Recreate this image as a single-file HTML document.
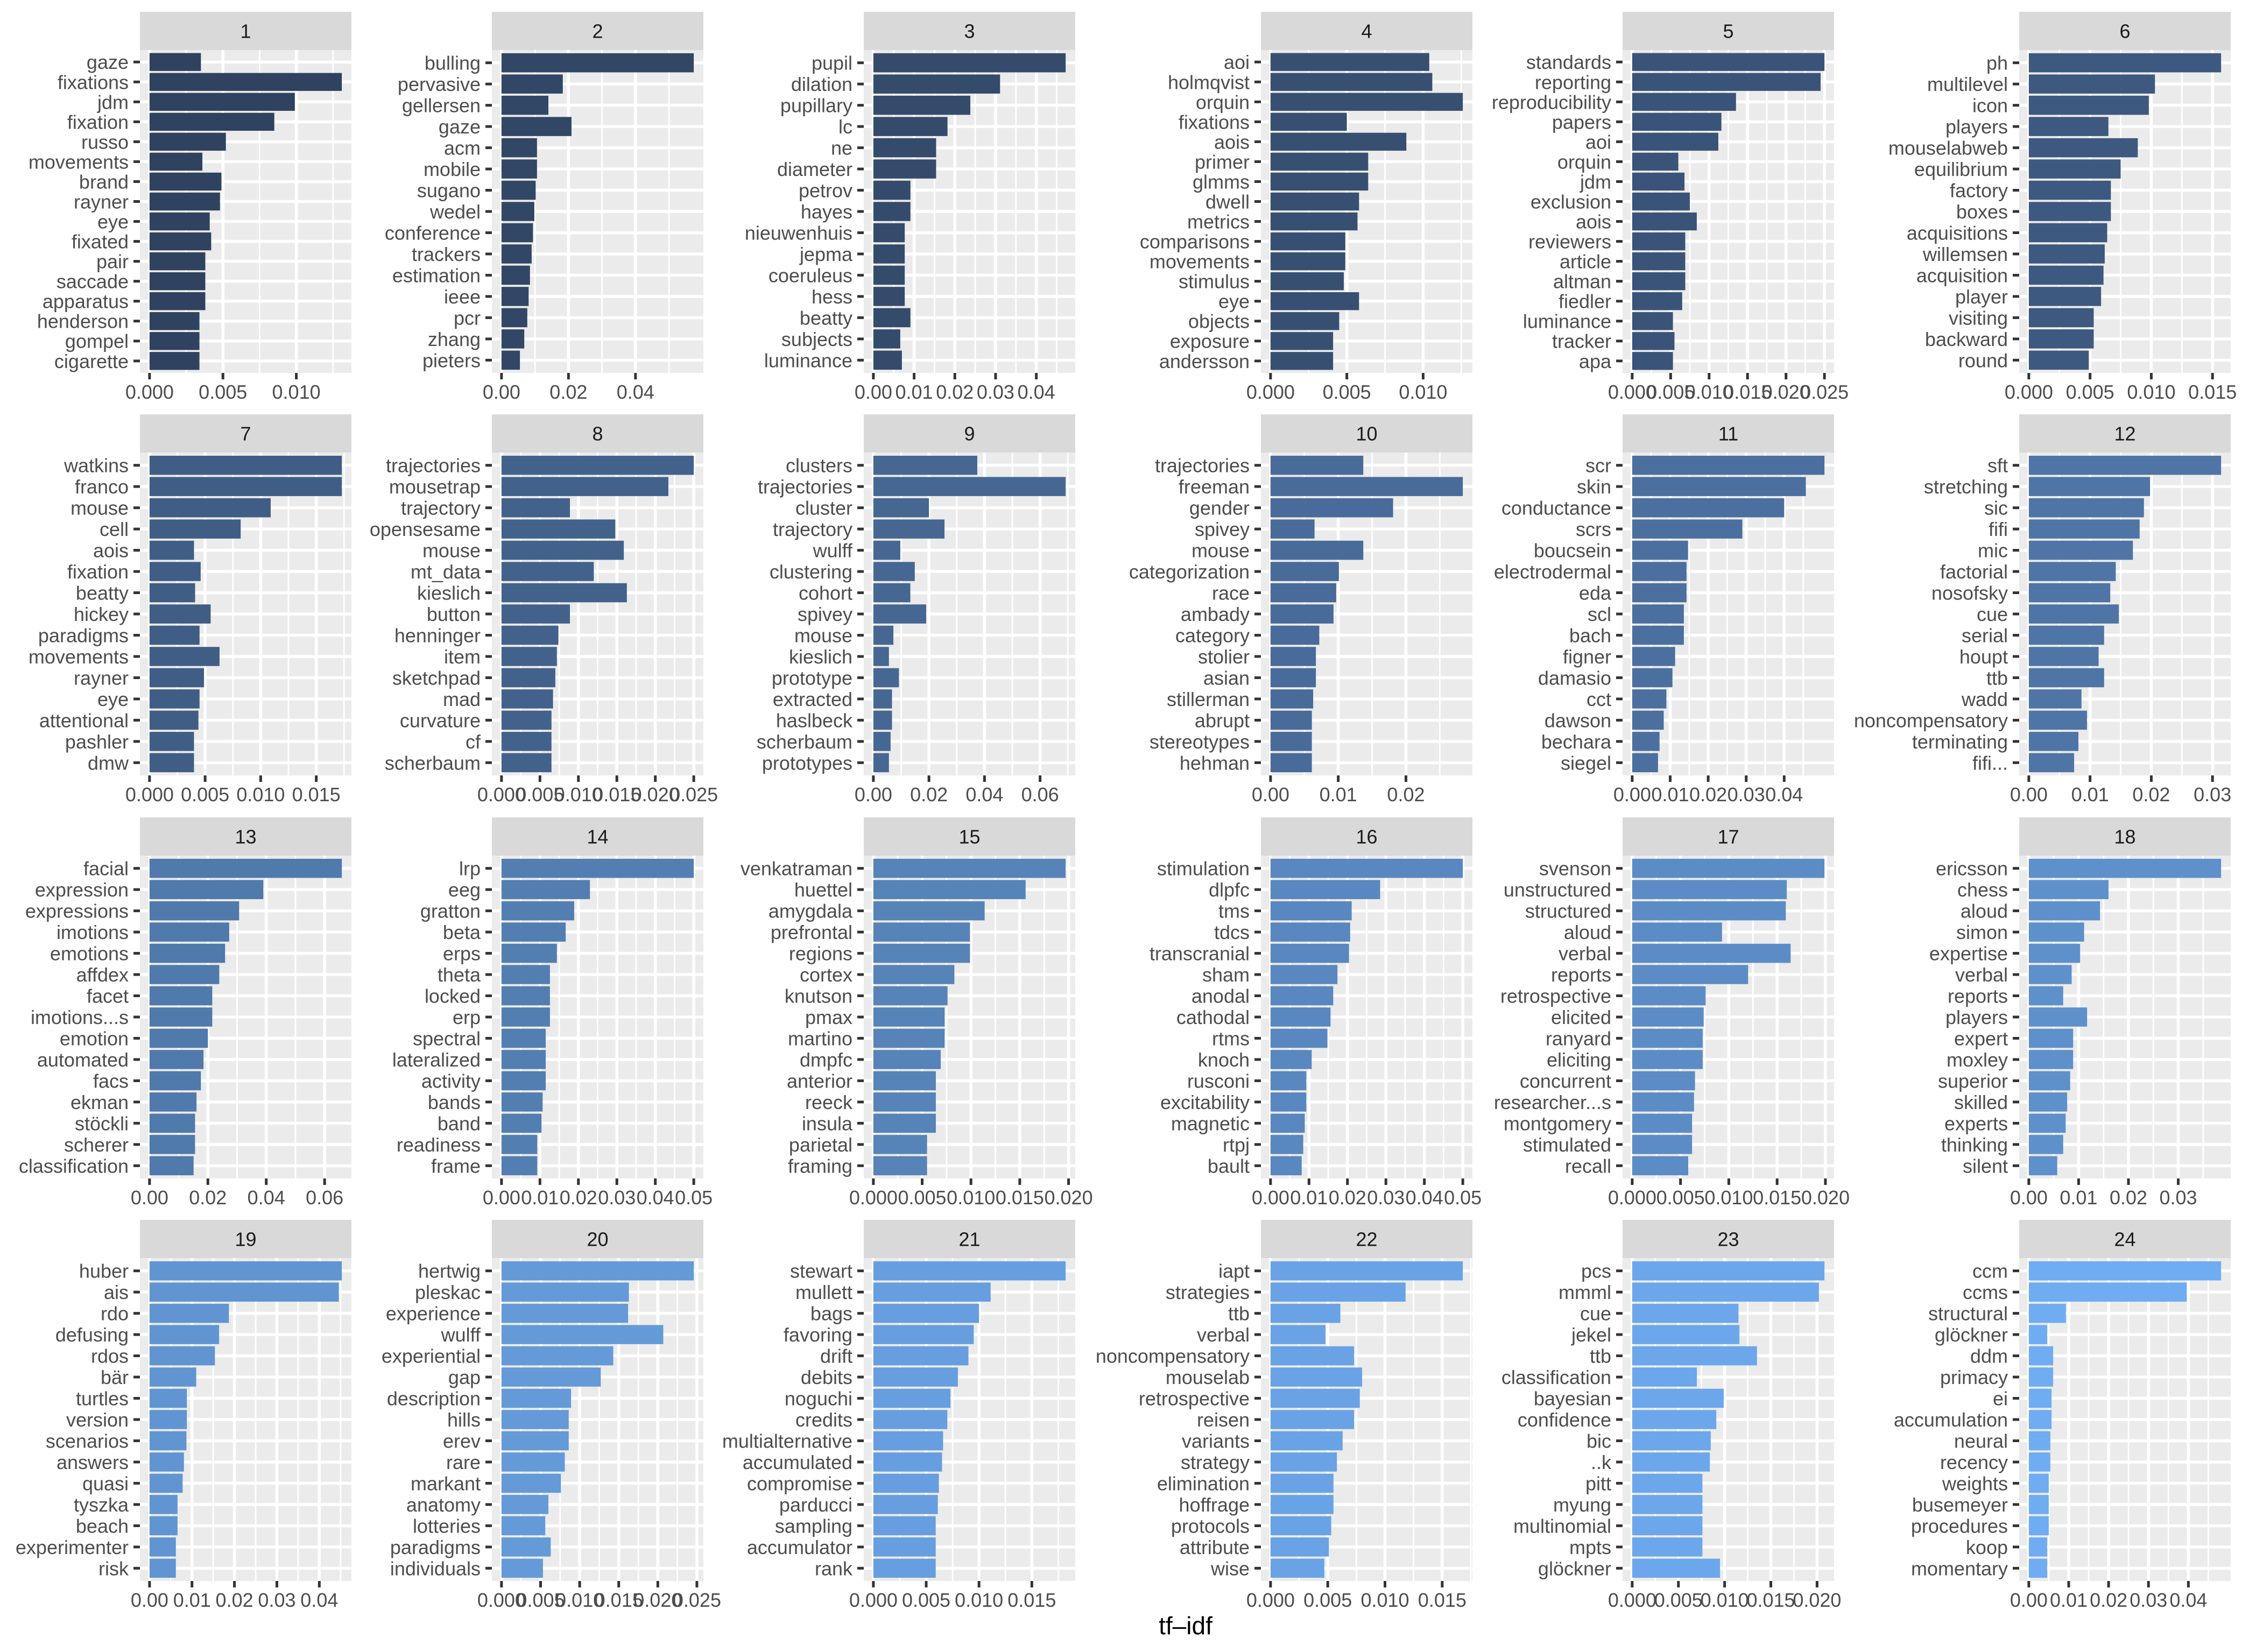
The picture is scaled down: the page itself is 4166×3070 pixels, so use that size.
<!DOCTYPE html>
<html><head><meta charset="utf-8"><style>
html,body{margin:0;padding:0;background:#fff;}
svg{display:block;font-family:"Liberation Sans",Arial,sans-serif;}
</style></head><body>
<svg id="chart" width="4166" height="3070" viewBox="0 0 4166 3070" xmlns="http://www.w3.org/2000/svg">
<text x="2203" y="3037" font-size="46" text-anchor="middle" fill="#000">tf–idf</text>
</svg>
<script>
const facetLabels = ["1","2","3","4","5","6","7","8","9","10","11","12","13","14","15","16","17","18","19","20","21","22","23","24"];
const terms = [
["gaze","fixations","jdm","fixation","russo","movements","brand","rayner","eye","fixated","pair","saccade","apparatus","henderson","gompel","cigarette"],
["bulling","pervasive","gellersen","gaze","acm","mobile","sugano","wedel","conference","trackers","estimation","ieee","pcr","zhang","pieters"],
["pupil","dilation","pupillary","lc","ne","diameter","petrov","hayes","nieuwenhuis","jepma","coeruleus","hess","beatty","subjects","luminance"],
["aoi","holmqvist","orquin","fixations","aois","primer","glmms","dwell","metrics","comparisons","movements","stimulus","eye","objects","exposure","andersson"],
["standards","reporting","reproducibility","papers","aoi","orquin","jdm","exclusion","aois","reviewers","article","altman","fiedler","luminance","tracker","apa"],
["ph","multilevel","icon","players","mouselabweb","equilibrium","factory","boxes","acquisitions","willemsen","acquisition","player","visiting","backward","round"],
["watkins","franco","mouse","cell","aois","fixation","beatty","hickey","paradigms","movements","rayner","eye","attentional","pashler","dmw"],
["trajectories","mousetrap","trajectory","opensesame","mouse","mt_data","kieslich","button","henninger","item","sketchpad","mad","curvature","cf","scherbaum"],
["clusters","trajectories","cluster","trajectory","wulff","clustering","cohort","spivey","mouse","kieslich","prototype","extracted","haslbeck","scherbaum","prototypes"],
["trajectories","freeman","gender","spivey","mouse","categorization","race","ambady","category","stolier","asian","stillerman","abrupt","stereotypes","hehman"],
["scr","skin","conductance","scrs","boucsein","electrodermal","eda","scl","bach","figner","damasio","cct","dawson","bechara","siegel"],
["sft","stretching","sic","fifi","mic","factorial","nosofsky","cue","serial","houpt","ttb","wadd","noncompensatory","terminating","fifi..."],
["facial","expression","expressions","imotions","emotions","affdex","facet","imotions...s","emotion","automated","facs","ekman","stöckli","scherer","classification"],
["lrp","eeg","gratton","beta","erps","theta","locked","erp","spectral","lateralized","activity","bands","band","readiness","frame"],
["venkatraman","huettel","amygdala","prefrontal","regions","cortex","knutson","pmax","martino","dmpfc","anterior","reeck","insula","parietal","framing"],
["stimulation","dlpfc","tms","tdcs","transcranial","sham","anodal","cathodal","rtms","knoch","rusconi","excitability","magnetic","rtpj","bault"],
["svenson","unstructured","structured","aloud","verbal","reports","retrospective","elicited","ranyard","eliciting","concurrent","researcher...s","montgomery","stimulated","recall"],
["ericsson","chess","aloud","simon","expertise","verbal","reports","players","expert","moxley","superior","skilled","experts","thinking","silent"],
["huber","ais","rdo","defusing","rdos","bär","turtles","version","scenarios","answers","quasi","tyszka","beach","experimenter","risk"],
["hertwig","pleskac","experience","wulff","experiential","gap","description","hills","erev","rare","markant","anatomy","lotteries","paradigms","individuals"],
["stewart","mullett","bags","favoring","drift","debits","noguchi","credits","multialternative","accumulated","compromise","parducci","sampling","accumulator","rank"],
["iapt","strategies","ttb","verbal","noncompensatory","mouselab","retrospective","reisen","variants","strategy","elimination","hoffrage","protocols","attribute","wise"],
["pcs","mmml","cue","jekel","ttb","classification","bayesian","confidence","bic","..k","pitt","myung","multinomial","mpts","glöckner"],
["ccm","ccms","structural","glöckner","ddm","primacy","ei","accumulation","neural","recency","weights","busemeyer","procedures","koop","momentary"]
];
const values = [
[0.0035,0.0131,0.0099,0.0085,0.0052,0.0036,0.0049,0.0048,0.0041,0.0042,0.0038,0.0038,0.0038,0.0034,0.0034,0.0034],
[0.0574,0.0183,0.014,0.0209,0.0106,0.0106,0.0102,0.0098,0.0094,0.009,0.0085,0.0081,0.0077,0.0068,0.0055],
[0.0472,0.0311,0.0238,0.0182,0.0154,0.0154,0.0091,0.0091,0.0077,0.0077,0.0077,0.0077,0.0091,0.0066,0.007],
[0.0104,0.0106,0.0126,0.005,0.0089,0.0064,0.0064,0.0058,0.0057,0.0049,0.0049,0.0048,0.0058,0.0045,0.0041,0.0041],
[0.025,0.0245,0.0135,0.0116,0.0112,0.006,0.0068,0.0075,0.0084,0.0069,0.0069,0.0069,0.0065,0.0053,0.0055,0.0053],
[0.0157,0.0103,0.0098,0.0065,0.0089,0.0075,0.0067,0.0067,0.0064,0.0062,0.0061,0.0059,0.0053,0.0053,0.0049],
[0.0173,0.0173,0.0109,0.0082,0.004,0.0046,0.0041,0.0055,0.0045,0.0063,0.0049,0.0045,0.0044,0.004,0.004],
[0.025,0.0217,0.0089,0.0148,0.0159,0.012,0.0163,0.0089,0.0074,0.0072,0.007,0.0067,0.0065,0.0065,0.0065],
[0.0374,0.0692,0.02,0.0256,0.0097,0.0149,0.0133,0.019,0.0072,0.0056,0.0092,0.0067,0.0067,0.0062,0.0056],
[0.0137,0.0284,0.0181,0.0065,0.0137,0.0101,0.0097,0.0093,0.0072,0.0067,0.0067,0.0063,0.0061,0.0061,0.0061],
[0.0506,0.0457,0.04,0.029,0.0147,0.0143,0.0143,0.0136,0.0136,0.0113,0.0106,0.009,0.0083,0.0072,0.0068],
[0.0314,0.0198,0.0188,0.0181,0.017,0.0142,0.0133,0.0147,0.0123,0.0114,0.0123,0.0086,0.0095,0.0081,0.0074],
[0.0659,0.039,0.0307,0.0273,0.0259,0.0239,0.0215,0.0215,0.02,0.0185,0.0176,0.0161,0.0156,0.0156,0.0151],
[0.05,0.023,0.0189,0.0167,0.0144,0.0126,0.0126,0.0126,0.0115,0.0115,0.0115,0.0107,0.0104,0.0093,0.0093],
[0.0197,0.0156,0.0114,0.0099,0.0099,0.0083,0.0076,0.0073,0.0073,0.0069,0.0064,0.0064,0.0064,0.0055,0.0055],
[0.05,0.0285,0.0211,0.0207,0.0204,0.0174,0.0163,0.0156,0.0148,0.0107,0.0093,0.0093,0.0089,0.0085,0.0081],
[0.0199,0.016,0.0159,0.0093,0.0164,0.012,0.0076,0.0074,0.0073,0.0073,0.0065,0.0064,0.0062,0.0062,0.0058],
[0.0386,0.016,0.0143,0.0111,0.0103,0.0086,0.0069,0.0117,0.0089,0.0089,0.0083,0.0077,0.0074,0.0069,0.0057],
[0.0453,0.0446,0.0187,0.0164,0.0154,0.011,0.0088,0.0088,0.0087,0.0081,0.0078,0.0066,0.0066,0.0062,0.0062],
[0.0246,0.0163,0.0162,0.0207,0.0143,0.0127,0.0089,0.0086,0.0086,0.0081,0.0076,0.006,0.0056,0.0063,0.0053],
[0.0182,0.0111,0.01,0.0095,0.009,0.008,0.0073,0.007,0.0066,0.0065,0.0062,0.0061,0.0059,0.0059,0.0059],
[0.0168,0.0118,0.0061,0.0048,0.0073,0.008,0.0078,0.0073,0.0063,0.0058,0.0055,0.0055,0.0053,0.0051,0.0047],
[0.0208,0.0202,0.0115,0.0116,0.0135,0.007,0.0099,0.0091,0.0085,0.0084,0.0076,0.0076,0.0076,0.0076,0.0095],
[0.0482,0.0396,0.0093,0.0046,0.0061,0.0061,0.0057,0.0057,0.0054,0.0054,0.005,0.005,0.005,0.0046,0.0046]
];
const tickLabels = [
["0.000","0.005","0.010"],
["0.00","0.02","0.04"],
["0.00","0.01","0.02","0.03","0.04"],
["0.000","0.005","0.010"],
["0.000","0.005","0.010","0.015","0.020","0.025"],
["0.000","0.005","0.010","0.015"],
["0.000","0.005","0.010","0.015"],
["0.000","0.005","0.010","0.015","0.020","0.025"],
["0.00","0.02","0.04","0.06"],
["0.00","0.01","0.02"],
["0.00","0.01","0.02","0.03","0.04"],
["0.00","0.01","0.02","0.03"],
["0.00","0.02","0.04","0.06"],
["0.00","0.01","0.02","0.03","0.04","0.05"],
["0.000","0.005","0.010","0.015","0.020"],
["0.00","0.01","0.02","0.03","0.04","0.05"],
["0.000","0.005","0.010","0.015","0.020"],
["0.00","0.01","0.02","0.03"],
["0.00","0.01","0.02","0.03","0.04"],
["0.000","0.005","0.010","0.015","0.020","0.025"],
["0.000","0.005","0.010","0.015"],
["0.000","0.005","0.010","0.015"],
["0.000","0.005","0.010","0.015","0.020"],
["0.00","0.01","0.02","0.03","0.04"]
];

const NS = "http://www.w3.org/2000/svg";
const svg = document.getElementById("chart");
const colLefts = [260, 914, 1605, 2343, 3015, 3752];
const rowTops = [22, 770, 1519, 2267];
const PW = 393, SH = 71, PH = 600;
const c0 = [47,66,95], c1 = [111,172,242];
function mk(tag, attrs, parent){
  const e = document.createElementNS(NS, tag);
  for (const k in attrs) e.setAttribute(k, attrs[k]);
  (parent||svg).appendChild(e);
  return e;
}
function colorFor(i){
  const t = i/23;
  return "rgb(" + c0.map((v,j)=>Math.round(v+(c1[j]-v)*t)).join(",") + ")";
}
facetLabels.forEach((lab, p) => {
  const L = colLefts[p%6], T = rowTops[Math.floor(p/6)] + SH;
  const vals = values[p], tm = terms[p], n = vals.length;
  const m = Math.max(...vals);
  const x = v => L + (v + 0.05*m) / (1.1*m) * PW;
  const unit = PH / (n + 0.2);
  const y = i => T + (0.6 + i) * unit; // center of i-th (0-based) bar
  const g = mk("g", {});
  
  
  const strip = mk("rect", {x:L, y:T-SH, width:PW, height:SH, fill:"#d9d9d9"}, g);
  
  
  const st = mk("text", {x:L+PW/2, y:T-SH/2+13, "font-size":36, "text-anchor":"middle", fill:"#1a1a1a"}, g);
  
  
  st.textContent = lab;
  const bg = mk("rect", {x:L, y:T, width:PW, height:PH, fill:"#ebebeb"}, g);
  
  
  const ticks = tickLabels[p].map(parseFloat);
  const step = ticks[1]-ticks[0];
  const lo = -0.05*m, hi = 1.05*m;
  const minors = [];
  for (let k=-1;k<ticks.length;k++){ const v = ticks[0]+(k+0.5)*step; if (v>lo && v<hi) minors.push(v); }
  minors.forEach(v => {
    const ln = mk("line", {x1:x(v), x2:x(v), y1:T, y2:T+PH, stroke:"#fff", "stroke-width":2.8}, g);
    
    
  });
  ticks.forEach(v => {
    const ln = mk("line", {x1:x(v), x2:x(v), y1:T, y2:T+PH, stroke:"#fff", "stroke-width":5.5}, g);
    
    
  });
  for (let i=0;i<n;i++){
    const ln = mk("line", {x1:L, x2:L+PW, y1:y(i), y2:y(i), stroke:"#fff", "stroke-width":5.5}, g);
    
    
  }
  const col = colorFor(p);
  for (let i=0;i<n;i++){
    const r = mk("rect", {x:x(0), y:y(i)-0.45*unit, width:x(vals[i])-x(0), height:0.9*unit, fill:col}, g);
    
    
    const tk = mk("line", {x1:L-12, x2:L, y1:y(i), y2:y(i), stroke:"#333", "stroke-width":5}, g);
    
    
    const t = mk("text", {x:L-21, y:y(i)+13, "font-size":36, "text-anchor":"end", fill:"#4d4d4d"}, g);
    
    
    t.textContent = tm[i];
  }
  ticks.forEach((v, k) => {
    const tk = mk("line", {x1:x(v), x2:x(v), y1:T+PH, y2:T+PH+12, stroke:"#333", "stroke-width":5}, g);
    
    
    const t = mk("text", {x:x(v), y:T+PH+48, "font-size":36, "text-anchor":"middle", fill:"#4d4d4d"}, g);
    
    
    t.textContent = tickLabels[p][k];
  });
});
</script>
</body></html>
